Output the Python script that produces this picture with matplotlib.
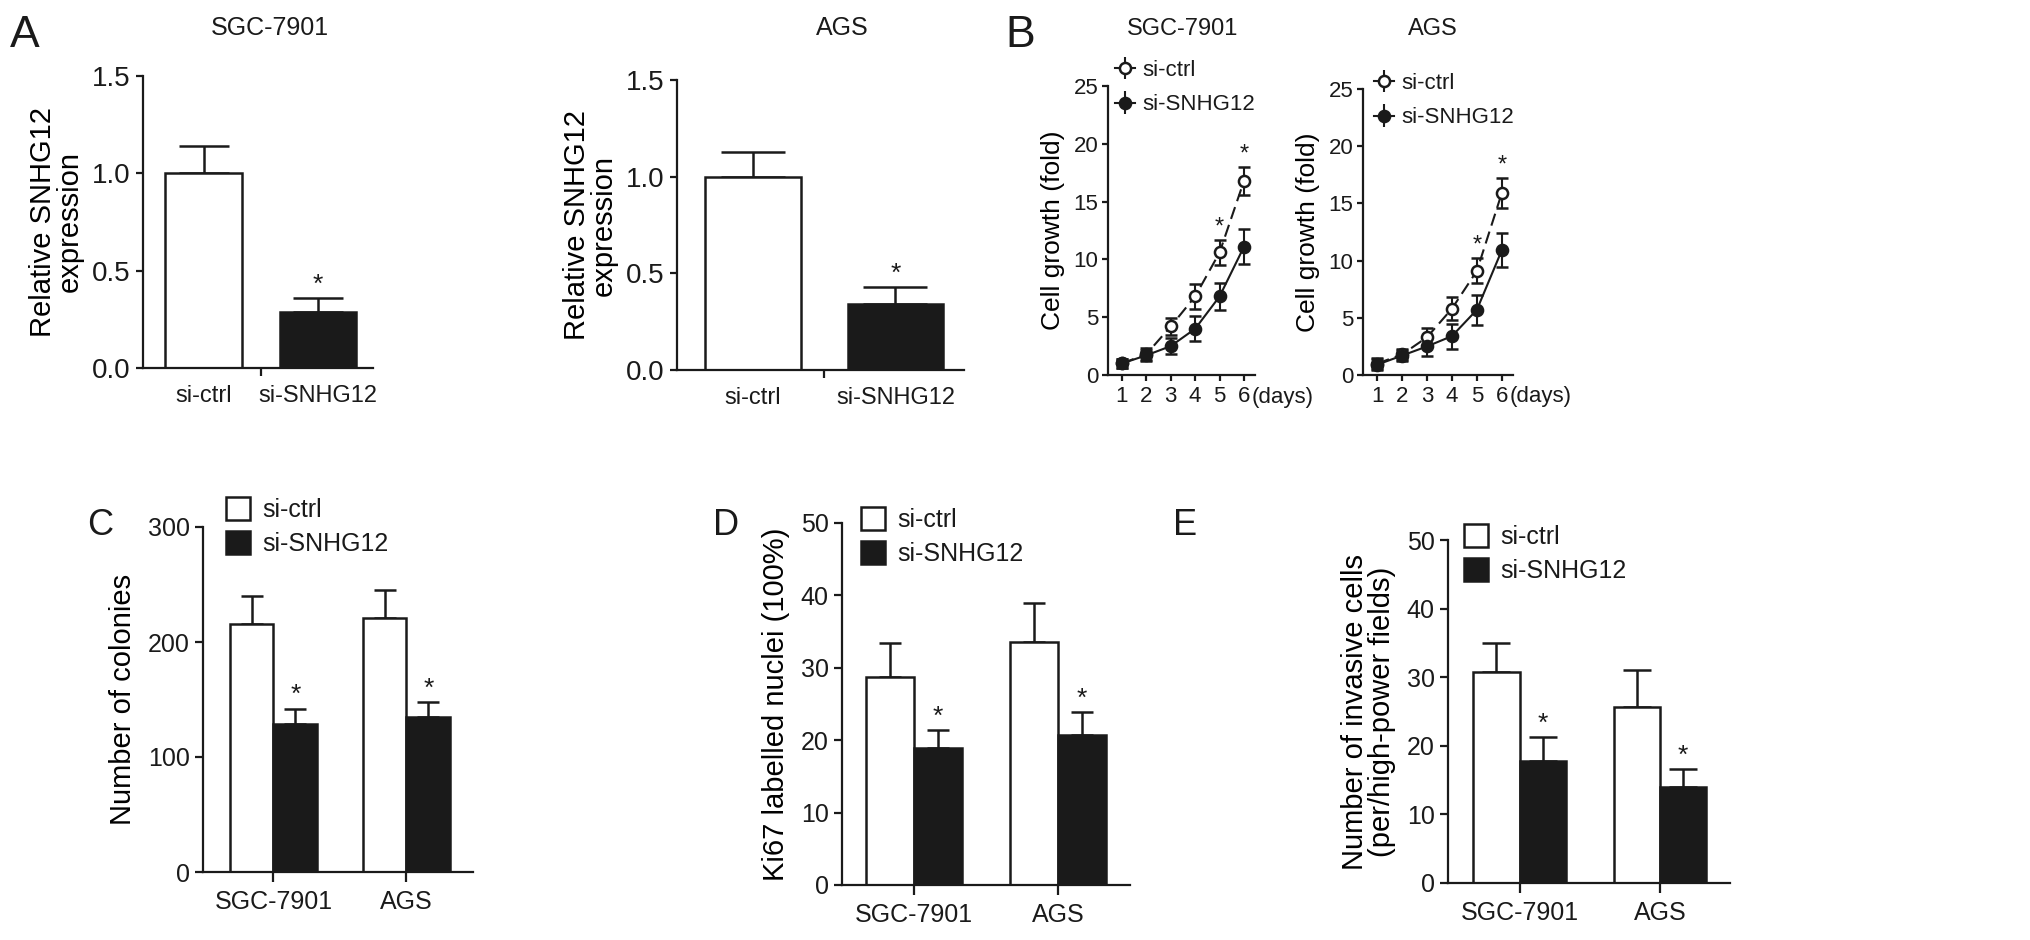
import matplotlib
matplotlib.use('Agg')
import matplotlib.pyplot as plt
import matplotlib.transforms as mtransforms
from matplotlib.patches import Patch
import numpy as np

W, H = 2031, 940
INK = '#1a1a1a'

# A: relative SNHG12 expression
expr_groups = ['si-ctrl', 'si-SNHG12']
sgc_expr = [1.0, 0.29]
sgc_expr_err = [0.14, 0.07]
ags_expr = [1.0, 0.34]
ags_expr_err = [0.13, 0.09]

# B: cell growth (fold)
days = [1, 2, 3, 4, 5, 6]
sgc_ctrl_growth = [1.0, 1.8, 4.2, 6.8, 10.6, 16.8]
sgc_ctrl_err = [0.4, 0.5, 0.7, 1.1, 1.1, 1.2]
sgc_si_growth = [1.0, 1.7, 2.5, 4.0, 6.8, 11.1]
sgc_si_err = [0.4, 0.5, 0.7, 1.1, 1.2, 1.5]
ags_ctrl_growth = [1.0, 1.8, 3.3, 5.8, 9.1, 15.9]
ags_ctrl_err = [0.5, 0.5, 0.8, 1.0, 1.1, 1.3]
ags_si_growth = [0.9, 1.7, 2.5, 3.4, 5.7, 10.9]
ags_si_err = [0.5, 0.5, 0.8, 1.1, 1.3, 1.5]
growth_star_days = [5, 6]

# C, D, E: grouped bars
cell_lines = ['SGC-7901', 'AGS']
colonies_ctrl = [216, 221]
colonies_ctrl_err = [24, 24]
colonies_si = [129, 135]
colonies_si_err = [13, 13]
ki67_ctrl = [28.7, 33.6]
ki67_ctrl_err = [4.7, 5.3]
ki67_si = [18.9, 20.7]
ki67_si_err = [2.5, 3.2]
invasive_ctrl = [30.8, 25.7]
invasive_ctrl_err = [4.2, 5.3]
invasive_si = [17.8, 14.0]
invasive_si_err = [3.5, 2.6]

plt.rcParams['font.family'] = ['Liberation Sans', 'DejaVu Sans']
plt.rcParams['text.color'] = INK
LW = 1.6

fig = plt.figure(figsize=(W / 100, H / 100), dpi=100)


def px_rect(left, top, right, bottom):
    return [left / W, 1 - bottom / H, (right - left) / W, (bottom - top) / H]


def style_axes(ax):
    for side in ['top', 'right']:
        ax.spines[side].set_visible(False)
    for side in ['left', 'bottom']:
        ax.spines[side].set_linewidth(LW)
        ax.spines[side].set_color(INK)
    ax.tick_params(direction='out', width=LW, length=5, color=INK, labelcolor=INK)


def star(ax, x, y, size=19):
    ax.annotate('*', (x, y), xytext=(0, 1), textcoords='offset points',
                ha='center', va='bottom', fontsize=size, color=INK)


def expr_panel(rect, vals, errs, cap):
    ax = fig.add_axes(px_rect(*rect))
    style_axes(ax)
    x = np.arange(len(vals))
    ax.bar(x, vals, width=0.67, color=['white', INK], edgecolor=INK, linewidth=1.8, zorder=2)
    ax.errorbar(x, vals, yerr=[np.zeros(len(vals)), errs], fmt='none', ecolor=INK,
                elinewidth=1.8, capsize=cap, capthick=1.8, zorder=1)
    star(ax, x[1], vals[1] + errs[1])
    ax.set_xlim(-0.53, 1.48)
    ax.set_ylim(0, 1.5)
    ax.set_yticks([0, 0.5, 1.0, 1.5])
    ax.set_yticklabels(['0.0', '0.5', '1.0', '1.5'], fontsize=20)
    ax.set_xticks(x)
    ax.set_xticklabels(expr_groups, fontsize=17)
    ax.tick_params(axis='x', length=0, pad=12)
    ax.tick_params(axis='y', pad=4)
    ax.set_xticks([0.5], minor=True)
    ax.tick_params(axis='x', which='minor', direction='out', length=6, width=LW, color=INK)
    ax.set_ylabel('Relative SNHG12\nexpression', fontsize=21, labelpad=6, linespacing=0.95)
    return ax


def growth_panel(rect, ctrl, ctrl_err, si, si_err, legend_xy):
    ax = fig.add_axes(px_rect(*rect))
    style_axes(ax)
    style = dict(color=INK, lw=1.5, ms=8, mec=INK, mew=1.8, elinewidth=1.5, capthick=1.5)
    ax.errorbar(days, ctrl, yerr=ctrl_err, fmt='o--', dashes=(6, 3), mfc='white',
                capsize=4, zorder=3, **style)
    ax.errorbar(days, si, yerr=si_err, fmt='o-', mfc=INK, capsize=4, zorder=3, **style)
    # legend keys: marker crossed by a short bar, no caps
    k1 = ax.errorbar([np.nan], [np.nan], yerr=[np.nan], fmt='o-', mfc='white', capsize=0, **style)
    k2 = ax.errorbar([np.nan], [np.nan], yerr=[np.nan], fmt='o-', mfc=INK, capsize=0, **style)
    for d in growth_star_days:
        i = days.index(d)
        star(ax, d, ctrl[i] + ctrl_err[i], size=17)
    ax.set_xlim(0.43, 6.45)
    ax.set_ylim(0, 25)
    ax.set_xticks(days)
    ax.set_yticks([0, 5, 10, 15, 20, 25])
    ax.tick_params(axis='both', labelsize=16, length=4)
    ax.tick_params(axis='x', pad=4)
    ax.tick_params(axis='y', pad=3)
    trans = mtransforms.blended_transform_factory(ax.transData, ax.transAxes)
    ax.text(6.3, -0.04, '(days)', transform=trans, ha='left', va='top', fontsize=16)
    ax.set_ylabel('Cell growth (fold)', fontsize=19, labelpad=6)
    ax.legend([k1, k2], ['si-ctrl', 'si-SNHG12'], loc='upper left',
              bbox_to_anchor=(legend_xy[0] / W, 1 - legend_xy[1] / H),
              bbox_transform=fig.transFigure, frameon=False, borderpad=0,
              borderaxespad=0, handlelength=0.9, handletextpad=0.35,
              labelspacing=0.6, fontsize=16)
    return ax


def group_panel(rect, ctrl, ctrl_err, si, si_err, ymax, xlim, ylabel, legend_xy, cap):
    ax = fig.add_axes(px_rect(*rect))
    style_axes(ax)
    x = np.arange(len(cell_lines))
    w = 0.33
    ax.bar(x - w / 2, ctrl, w, color='white', edgecolor=INK, linewidth=1.8, zorder=2)
    ax.bar(x + w / 2, si, w, color=INK, edgecolor=INK, linewidth=1.8, zorder=2)
    ax.errorbar(x - w / 2, ctrl, yerr=[np.zeros(2), ctrl_err], fmt='none', ecolor=INK,
                elinewidth=1.8, capsize=cap, capthick=1.8, zorder=1)
    ax.errorbar(x + w / 2, si, yerr=[np.zeros(2), si_err], fmt='none', ecolor=INK,
                elinewidth=1.8, capsize=cap, capthick=1.8, zorder=1)
    for xi, v, e in zip(x + w / 2, si, si_err):
        star(ax, xi, v + e)
    ax.set_xlim(*xlim)
    ax.set_ylim(0, ymax)
    ax.set_yticks(np.linspace(0, ymax, 6 if ymax == 50 else 4))
    ax.set_xticks(x)
    ax.set_xticklabels(cell_lines, fontsize=18)
    ax.tick_params(axis='y', labelsize=18, length=6)
    ax.tick_params(axis='x', length=7, pad=6)
    ax.set_ylabel(ylabel, fontsize=21, labelpad=8, linespacing=0.95)
    legend_handles = [Patch(facecolor='white', edgecolor=INK, linewidth=1.8),
                      Patch(facecolor=INK, edgecolor=INK, linewidth=1.8)]
    ax.legend(legend_handles, ['si-ctrl', 'si-SNHG12'], loc='upper left',
              bbox_to_anchor=(legend_xy[0] / W, 1 - legend_xy[1] / H),
              bbox_transform=fig.transFigure, frameon=False, borderpad=0,
              borderaxespad=0, handlelength=0.95, handleheight=1.05,
              handletextpad=0.5, labelspacing=0.35, fontsize=18)
    return ax


expr_panel((143, 76, 373, 368), sgc_expr, sgc_expr_err, cap=18)
expr_panel((677, 80, 964, 370), ags_expr, ags_expr_err, cap=23)

growth_panel((1108, 86, 1255, 375), sgc_ctrl_growth, sgc_ctrl_err,
             sgc_si_growth, sgc_si_err, legend_xy=(1115, 60))
growth_panel((1363, 89, 1513, 375), ags_ctrl_growth, ags_ctrl_err,
             ags_si_growth, ags_si_err, legend_xy=(1374, 73))

group_panel((203, 527, 473, 872), colonies_ctrl, colonies_ctrl_err, colonies_si,
            colonies_si_err, 300, (-0.53, 1.5), 'Number of colonies', (226, 497), cap=8)
group_panel((842, 523, 1130, 885), ki67_ctrl, ki67_ctrl_err, ki67_si, ki67_si_err,
            50, (-0.5, 1.5), 'Ki67 labelled nuclei (100%)', (861, 507), cap=8)
group_panel((1448, 540, 1730, 883), invasive_ctrl, invasive_ctrl_err, invasive_si,
            invasive_si_err, 50, (-0.51, 1.5),
            'Number of invasive cells\n(per/high-power fields)', (1464, 524), cap=10)

# panel titles
for txt, xc, size in [('SGC-7901', 270, 18), ('AGS', 842, 18),
                      ('SGC-7901', 1183, 17), ('AGS', 1433, 17)]:
    fig.text(xc / W, 1 - 35 / H, txt, ha='center', va='baseline', fontsize=size)

# panel letters
for letter, xl, yb, size in [('A', 10, 47, 32), ('B', 1005, 47, 32),
                             ('C', 87, 535, 26), ('D', 713, 535, 26), ('E', 1173, 535, 26)]:
    fig.text(xl / W, 1 - yb / H, letter, ha='left', va='baseline', fontsize=size)

fig.savefig('out.png', dpi=100, facecolor='white')
